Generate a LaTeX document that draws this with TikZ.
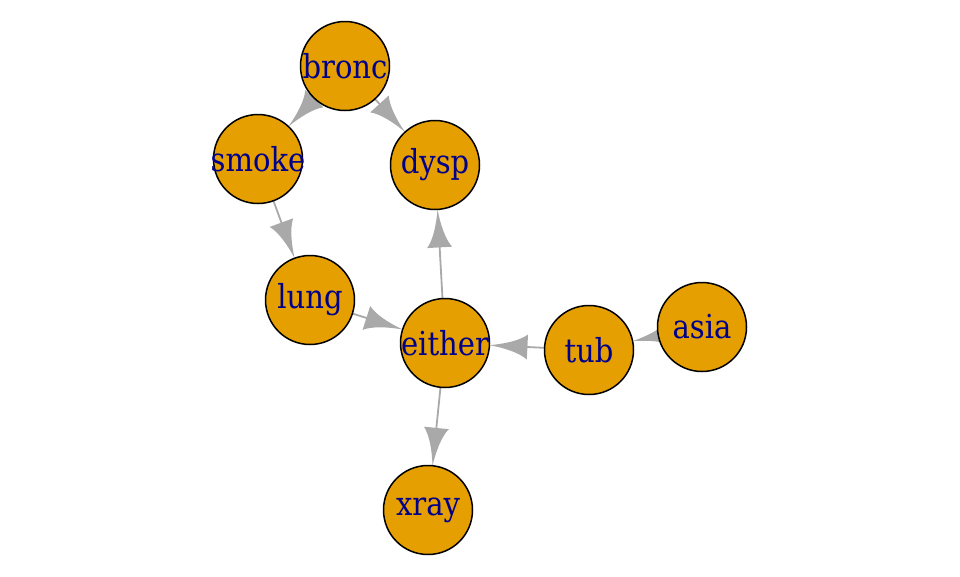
\documentclass[tikz,border=0pt]{standalone}
\usepackage{fontspec}
\setmainfont[FakeStretch=0.88]{DejaVu Serif}
\usetikzlibrary{arrows.meta}
\pgfdeclarelayer{bg}
\pgfsetlayers{bg,main}
\pgfdeclarearrow{
  name = igraphtip,
  parameters = {\the\pgfarrowlength,\the\pgfarrowwidth},
  setup code = {
    \pgfarrowssettipend{0pt}
    \pgfarrowssetbackend{-\pgfarrowlength}
    \pgfarrowssetlineend{-0.5\pgfarrowlength}
    \pgfarrowssavethe\pgfarrowlength
    \pgfarrowssavethe\pgfarrowwidth
  },
  drawing code = {
    \pgfpathmoveto{\pgfpoint{0pt}{0pt}}
    \pgfpathcurveto{\pgfpoint{-0.4\pgfarrowlength}{0.08\pgfarrowwidth}}{\pgfpoint{-0.8\pgfarrowlength}{0.25\pgfarrowwidth}}{\pgfpoint{-\pgfarrowlength}{0.5\pgfarrowwidth}}
    \pgfpathlineto{\pgfpoint{-\pgfarrowlength}{-0.5\pgfarrowwidth}}
    \pgfpathcurveto{\pgfpoint{-0.8\pgfarrowlength}{-0.25\pgfarrowwidth}}{\pgfpoint{-0.4\pgfarrowlength}{-0.08\pgfarrowwidth}}{\pgfpoint{0pt}{0pt}}
    \pgfpathclose
    \pgfusepathqfill
  },
  defaults = {length = 38pt, width = 25pt}
}
\definecolor{vfill}{HTML}{E69F00}
\definecolor{vlab}{HTML}{00008B}
\definecolor{egray}{HTML}{A9A9A9}
\tikzset{
  vert/.style={circle, draw=black, line width=1.5pt, fill=vfill, minimum size=89pt, inner sep=0pt, outer sep=0pt, text=vlab, font=\fontsize{33}{36}\selectfont},
  edg/.style={draw=egray, line width=1.8pt, -{igraphtip}}
}
\newcommand{\vtxt}[1]{\makebox[0pt][c]{#1}}
\begin{document}
\begin{tikzpicture}[x=1pt,y=-1pt]
\useasboundingbox (0,0) rectangle (960,576);
\node[vert] (bronc) at (345,66) {\vtxt{bronc}};
\node[vert] (smoke) at (258,159) {\vtxt{smoke}};
\node[vert] (dysp) at (435,165) {\vtxt{dysp}};
\node[vert] (lung) at (310,300) {\vtxt{lung}};
\node[vert] (either) at (445,343) {\vtxt{either}};
\node[vert] (tub) at (589,350) {\vtxt{tub}};
\node[vert] (asia) at (702,327) {\vtxt{asia}};
\node[vert] (xray) at (428,510) {\vtxt{xray}};
\begin{pgfonlayer}{bg}
\draw[edg] (bronc) -- (smoke);
\draw[edg] (bronc) -- (dysp);
\draw[edg] (smoke) -- (lung);
\draw[edg] (lung) -- (either);
\draw[edg] (either) -- (dysp);
\draw[edg] (tub) -- (either);
\draw[edg] (asia) -- (tub);
\draw[edg] (either) -- (xray);
\end{pgfonlayer}
\end{tikzpicture}
\end{document}
